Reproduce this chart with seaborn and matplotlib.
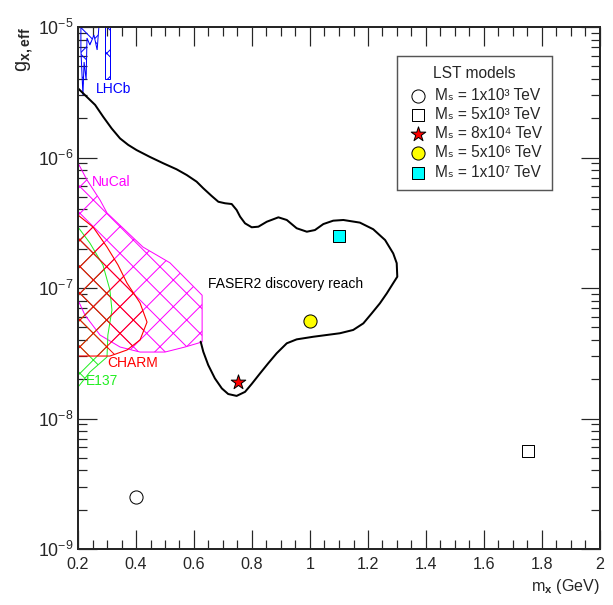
import numpy as np
import pandas as pd
import matplotlib
matplotlib.use("Agg")
import matplotlib.pyplot as plt
import seaborn as sns

# FASER2 discovery reach contour (m_x in GeV, g_x,eff)
faser_m = [0.200, 0.230, 0.259, 0.287, 0.316, 0.345, 0.373, 0.402, 0.448, 0.494,
           0.540, 0.575, 0.609, 0.632, 0.661, 0.684, 0.707, 0.730, 0.747, 0.759,
           0.776, 0.799, 0.822, 0.851, 0.891, 0.920, 0.954, 0.989, 1.017, 1.046,
           1.080, 1.115, 1.172, 1.218, 1.259, 1.287, 1.299, 1.301, 1.287, 1.265,
           1.241, 1.213, 1.184, 1.149, 1.103, 1.011, 0.954, 0.920, 0.885, 0.856,
           0.828, 0.799, 0.776, 0.747, 0.718, 0.696, 0.672, 0.649, 0.632, 0.623]
faser_g = [3.39e-6, 2.92e-6, 2.53e-6, 2.05e-6, 1.67e-6, 1.40e-6, 1.25e-6, 1.14e-6, 1.01e-6, 9.03e-7,
           8.12e-7, 7.34e-7, 6.53e-7, 5.81e-7, 5.07e-7, 4.58e-7, 4.46e-7, 4.40e-7, 3.96e-7, 3.52e-7,
           3.13e-7, 2.92e-7, 2.95e-7, 3.22e-7, 3.48e-7, 3.32e-7, 2.87e-7, 2.70e-7, 2.78e-7, 3.09e-7,
           3.28e-7, 3.32e-7, 3.17e-7, 2.82e-7, 2.33e-7, 1.84e-7, 1.55e-7, 1.22e-7, 1.09e-7, 9.11e-8,
           7.63e-8, 6.40e-8, 5.36e-8, 4.77e-8, 4.50e-8, 4.23e-8, 4.04e-8, 3.77e-8, 3.16e-8, 2.65e-8,
           2.22e-8, 1.84e-8, 1.60e-8, 1.49e-8, 1.54e-8, 1.70e-8, 2.03e-8, 2.57e-8, 3.25e-8, 3.88e-8]

# excluded regions
nucal_m = [0.200, 0.231, 0.276, 0.300, 0.424, 0.517, 0.628, 0.628, 0.569, 0.500,
           0.414, 0.345, 0.276, 0.224, 0.200]
nucal_g = [9.08e-7, 6.73e-7, 4.72e-7, 3.76e-7, 2.06e-7, 1.56e-7, 8.8e-8, 3.86e-8, 3.53e-8, 3.23e-8,
           3.23e-8, 3.53e-8, 4.36e-8, 6.2e-8, 8.1e-8]

charm_m = [0.200, 0.252, 0.300, 0.338, 0.369, 0.414, 0.438, 0.414, 0.369, 0.310, 0.200]
charm_g = [3.62e-7, 2.93e-7, 2.06e-7, 1.50e-7, 1.09e-7, 7.68e-8, 5.48e-8, 4.0e-8, 3.35e-8, 3.01e-8, 3.01e-8]

e137_m = [0.200, 0.241, 0.286, 0.310, 0.317, 0.303, 0.300, 0.241, 0.200]
e137_g = [2.93e-7, 2.21e-7, 1.50e-7, 9.67e-8, 6.78e-8, 4.36e-8, 2.96e-8, 2.27e-8, 1.74e-8]

lhcb1_m = [0.210, 0.272, 0.266, 0.255, 0.241, 0.231, 0.228, 0.221, 0.217, 0.210]
lhcb1_g = [1e-5, 1e-5, 6.67e-6, 8.68e-6, 7.28e-6, 8.23e-6, 3.93e-6, 5.39e-6, 3.01e-6, 6.67e-6]
lhcb2_m = [0.293, 0.309, 0.309, 0.293]
lhcb2_g = [1e-5, 1e-5, 4.0e-6, 4.0e-6]

# LST model benchmark points
lst_m = [0.40, 1.75, 0.75, 1.00, 1.10]
lst_g = [2.5e-9, 5.6e-9, 1.9e-8, 5.6e-8, 2.5e-7]
lst_labels = ["Mₛ = 1x10³ TeV",
              "Mₛ = 5x10³ TeV",
              "Mₛ = 8x10⁴ TeV",
              "Mₛ = 5x10⁶ TeV",
              "Mₛ = 1x10⁷ TeV"]
lst_markers = ["o", "s", "*", "o", "s"]
lst_colors = ["white", "white", "red", "yellow", "cyan"]
lst_sizes = [140, 130, 190, 140, 120]

xtick_vals = [0.2, 0.4, 0.6, 0.8, 1.0, 1.2, 1.4, 1.6, 1.8, 2.0]
xtick_labels = ["0.2", "0.4", "0.6", "0.8", "1", "1.2", "1.4", "1.6", "1.8", "2"]

sns.set_style("ticks")
plt.rcParams["font.family"] = ["Liberation Sans", "DejaVu Sans"]
plt.rcParams["mathtext.fontset"] = "custom"
plt.rcParams["mathtext.rm"] = "Liberation Sans"
plt.rcParams["mathtext.bf"] = "Liberation Sans:bold"
plt.rcParams["hatch.linewidth"] = 0.9

fig = plt.figure(figsize=(613 / 80, 605 / 80), dpi=80)
ax = fig.add_axes([78 / 613, 1 - 549 / 605, 522 / 613, 522 / 605])

ax.fill(nucal_m, nucal_g, fill=False, hatch="x", edgecolor="magenta", lw=0.9)
ax.fill(e137_m, e137_g, fill=False, hatch="x", edgecolor="#22ee22", lw=0.9)
ax.fill(charm_m, charm_g, fill=False, hatch="x", edgecolor="red", lw=1.0)
ax.fill(lhcb1_m, lhcb1_g, fill=False, hatch="x", edgecolor="blue", lw=0.9)
ax.fill(lhcb2_m, lhcb2_g, fill=False, hatch="x", edgecolor="blue", lw=0.9)

faser = pd.DataFrame({"m": faser_m, "g": faser_g})
sns.lineplot(data=faser, x="m", y="g", sort=False, estimator=None, color="black", lw=1.8, ax=ax)

for m, g, lab, mk, c, s in zip(lst_m, lst_g, lst_labels, lst_markers, lst_colors, lst_sizes):
    sns.scatterplot(x=[m], y=[g], marker=mk, color=c, edgecolor="black", linewidth=0.9,
                    s=s, label=lab, ax=ax, zorder=5)

ax.text(0.262, 3.35e-6, "LHCb", color="blue", fontsize=12.5, va="center")
ax.text(0.248, 6.49e-7, "NuCal", color="magenta", fontsize=12.5, va="center")
ax.text(0.300, 2.66e-8, "CHARM", color="red", fontsize=12.5, va="center")
ax.text(0.2276, 1.94e-8, "E137", color="#22ee22", fontsize=12.5, va="center")
ax.text(0.648, 1.07e-7, "FASER2 discovery reach", color="black", fontsize=12.5, va="center")

ax.set_yscale("log")
ax.set_xlim(0.2, 2.0)
ax.set_ylim(1e-9, 1e-5)
ax.set_xticks(xtick_vals)
ax.set_xticklabels(xtick_labels)
ax.set_xticks(np.arange(0.25, 2.0, 0.05), minor=True)

ax.tick_params(which="both", direction="in", top=True, right=True, labelsize=14.5, width=1.1)
ax.tick_params(which="major", length=17)
ax.tick_params(which="minor", length=8.5)
ax.tick_params(axis="x", pad=7)
ax.tick_params(axis="y", labelsize=16, pad=4)
for sp in ax.spines.values():
    sp.set_linewidth(1.8)

ax.set_xlabel(r"m$_{\mathbf{x}}$ (GeV)", fontsize=14.5, loc="right", labelpad=5)
ax.set_ylabel(r"g$_{\mathbf{x,eff}}$", fontsize=18, loc="top", labelpad=2)

leg = ax.legend(title="LST models", loc="upper left", bbox_to_anchor=(0.6105, 0.9444),
                borderaxespad=0, fontsize=14, title_fontsize=14, frameon=True,
                fancybox=False, framealpha=1, edgecolor="#555555",
                handletextpad=0.3, labelspacing=0.27, handlelength=1.5, borderpad=0.65)
leg.get_frame().set_linewidth(1.3)
leg._legend_box.sep = 6.0  # gap between title and entries

fig.savefig("out.png", dpi=80)
